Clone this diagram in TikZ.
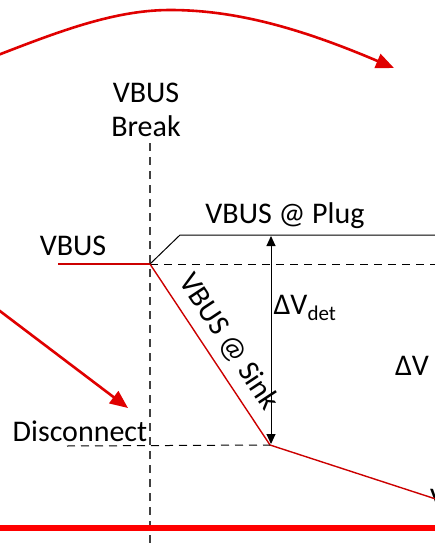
\documentclass[tikz,border=0pt]{standalone}
\usepackage{fontspec}
\setmainfont{Carlito}
\usetikzlibrary{arrows.meta}
\begin{document}
\begin{tikzpicture}[x=1pt,y=-1pt,
  lbl/.style={font=\fontsize{30}{34}\selectfont, inner sep=0pt},
  redarrow/.style={draw={rgb,255:red,224;green,0;blue,0}, line width=2.6pt, -{Triangle[length=18pt,width=15pt]}},
  redthin/.style={draw={rgb,255:red,204;green,0;blue,0}, line width=1.4pt},
  blk/.style={draw=black, line width=1pt},
  blkdash/.style={draw=black, line width=1pt, dash pattern=on 8pt off 6pt},
  grdash/.style={draw={rgb,255:red,64;green,64;blue,64}, line width=1.1pt, dash pattern=on 8pt off 6pt},
  dv/.style={draw=black, line width=1pt, {Triangle[length=10pt,width=9pt]}-{Triangle[length=10pt,width=9pt]}}
]
\useasboundingbox (0,0) rectangle (435,544);
\fill[white] (0,0) rectangle (435,544);
\clip (0,0) rectangle (435,544);

% coordinates
\coordinate (arcS) at (-20,62);
\coordinate (arcT) at (170,10);
\coordinate (arcE) at (394,68);
\coordinate (a2S) at (-12,302);
\coordinate (a2E) at (128,408);
\coordinate (brkT) at (150,143);
\coordinate (brkB) at (150,550);
\coordinate (vL) at (58,264);
\coordinate (vB) at (150,264);
\coordinate (vR) at (445,264);
\coordinate (pK) at (180,235);
\coordinate (pR) at (445,235);
\coordinate (sk) at (270,445);
\coordinate (skR) at (445,502);
\coordinate (dL) at (67,446);
\coordinate (dvT) at (271,236);
\coordinate (dvB) at (271,444);
\coordinate (dv2T) at (441,236);
\coordinate (dv2B) at (441,520);
\coordinate (bL) at (-5,528);
\coordinate (bR) at (440,528);

% top arc
\draw[redarrow] (arcS) .. controls (50,35) and (110,10) .. (arcT) .. controls (235,10) and (300,28) .. (arcE);
% second arrow
\draw[redarrow] (a2S) -- (a2E);

% break line
\draw[grdash] (brkT) -- (brkB);

% labels
\node[lbl, align=center] (brk) at (146,110) {VBUS\\Break};
\node[lbl] (vbus) at (73,246) {VBUS};
\node[lbl] (plug) at (285,216) {VBUS @ Plug};
\node[lbl] (dvdet) at (305,308) {ΔV\textsubscript{det}};
\node[lbl] (disc) at (80,431) {Disconnect};
\node[lbl] (dvl) at (412,366) {ΔV};
\node[lbl, anchor=west] (vx) at (430,499) {V};
\node[lbl, rotate=-56.5] (sink) at (229,342) {VBUS @ Sink};

% VBUS lines
\draw[redthin] (vL) -- (vB);
\draw[blkdash] (vB) -- (vR);
\draw[blk] (vB) -- (pK) -- (pR);
\draw[redthin] (vB) -- (sk) -- (skR);
\draw[blkdash] (dL) -- (sk);
\draw[dv] (dvB) -- (dvT);
\draw[dv] (dv2B) -- (dv2T);

% bottom thick red line
\draw[draw={rgb,255:red,255;green,0;blue,0}, line width=6pt] (bL) -- (bR);
\end{tikzpicture}
\end{document}
